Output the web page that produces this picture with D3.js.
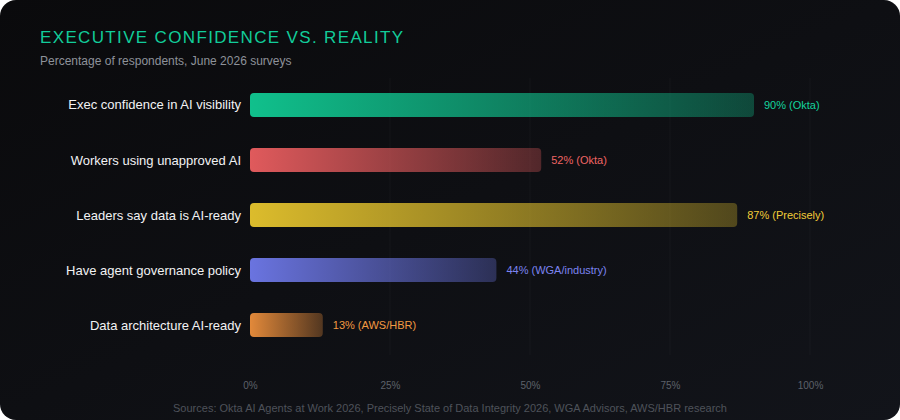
<!DOCTYPE html>
<html>
<head>
<meta charset="utf-8">
<script src="https://cdn.jsdelivr.net/npm/d3@7"></script>
<style>
  html, body { margin: 0; padding: 0; background: #ffffff; }
  svg { display: block; }
</style>
</head>
<body>
<div id="chart"></div>
<script>
const categories = [
  "Exec confidence in AI visibility",
  "Workers using unapproved AI",
  "Leaders say data is AI-ready",
  "Have agent governance policy",
  "Data architecture AI-ready"
];
const values = [90, 52, 87, 44, 13];
const sources = ["Okta", "Okta", "Precisely", "WGA/industry", "AWS/HBR"];
const barColors = ["#10c08c", "#e05a5c", "#dcbc2c", "#6a74e0", "#e2893a"];
const labelColors = ["#14d49e", "#ef6463", "#f2cc38", "#7c84f0", "#f29a42"];
const tickValues = [0, 25, 50, 75, 100];

const W = 900, H = 420;
const svg = d3.select("#chart").append("svg").attr("width", W).attr("height", H);
const defs = svg.append("defs");

const bgGrad = defs.append("linearGradient").attr("id", "bg")
  .attr("x1", "0%").attr("y1", "0%").attr("x2", "100%").attr("y2", "100%");
bgGrad.append("stop").attr("offset", "0%").attr("stop-color", "#0a0a0c");
bgGrad.append("stop").attr("offset", "100%").attr("stop-color", "#12141a");

svg.append("rect").attr("width", W).attr("height", H).attr("rx", 16).attr("fill", "url(#bg)");

const font = "'Liberation Sans', Arial, Helvetica, sans-serif";

svg.append("text").attr("x", 40).attr("y", 43)
  .attr("fill", "#12cc9a").attr("font-family", font).attr("font-size", 17)
  .attr("letter-spacing", "1.35px")
  .text("EXECUTIVE CONFIDENCE VS. REALITY");

svg.append("text").attr("x", 40).attr("y", 65)
  .attr("fill", "#8e929a").attr("font-family", font).attr("font-size", 12)
  .text("Percentage of respondents, June 2026 surveys");

const x = d3.scaleLinear().domain([0, 100]).range([250, 810]);
const y = d3.scaleBand().domain(categories).range([77.5, 352.5]).paddingInner(0.5636).paddingOuter(0.28);

// gridlines
svg.append("g").selectAll("line").data(tickValues.slice(1)).join("line")
  .attr("x1", d => x(d)).attr("x2", d => x(d))
  .attr("y1", 78).attr("y2", 355)
  .attr("stroke", "#ffffff").attr("stroke-opacity", 0.035).attr("stroke-width", 1);

// gradients per bar
categories.forEach((c, i) => {
  const g = defs.append("linearGradient").attr("id", "bar" + i)
    .attr("x1", "0%").attr("x2", "100%").attr("y1", "0%").attr("y2", "0%");
  g.append("stop").attr("offset", "0%").attr("stop-color", barColors[i]).attr("stop-opacity", 1);
  g.append("stop").attr("offset", "100%").attr("stop-color", barColors[i]).attr("stop-opacity", 0.32);
});

const rows = svg.append("g").selectAll("g").data(categories).join("g");

rows.append("rect")
  .attr("x", x(0))
  .attr("y", d => y(d))
  .attr("width", (d, i) => x(values[i]) - x(0))
  .attr("height", y.bandwidth())
  .attr("rx", 4)
  .attr("fill", (d, i) => `url(#bar${i})`);

rows.append("text")
  .attr("x", 241)
  .attr("y", d => y(d) + y.bandwidth() / 2)
  .attr("dy", "0.35em")
  .attr("text-anchor", "end")
  .attr("fill", "#f2f2f4")
  .attr("font-family", font).attr("font-size", 13)
  .text(d => d);

rows.append("text")
  .attr("x", (d, i) => x(values[i]) + 10)
  .attr("y", d => y(d) + y.bandwidth() / 2)
  .attr("dy", "0.35em")
  .attr("fill", (d, i) => labelColors[i])
  .attr("font-family", font).attr("font-size", 11)
  .text((d, i) => `${values[i]}% (${sources[i]})`);

// x axis
const axis = d3.axisBottom(x).tickValues(tickValues).tickFormat(d => d + "%").tickSize(0).tickPadding(0);
const ax = svg.append("g").attr("transform", "translate(0,382)").call(axis);
ax.select(".domain").remove();
ax.selectAll("text").attr("fill", "#5d616a").attr("font-family", font).attr("font-size", 10);

svg.append("text").attr("x", 450).attr("y", 412)
  .attr("text-anchor", "middle")
  .attr("fill", "#4e525a").attr("font-family", font).attr("font-size", 11)
  .text("Sources: Okta AI Agents at Work 2026, Precisely State of Data Integrity 2026, WGA Advisors, AWS/HBR research");
</script>
</body>
</html>
